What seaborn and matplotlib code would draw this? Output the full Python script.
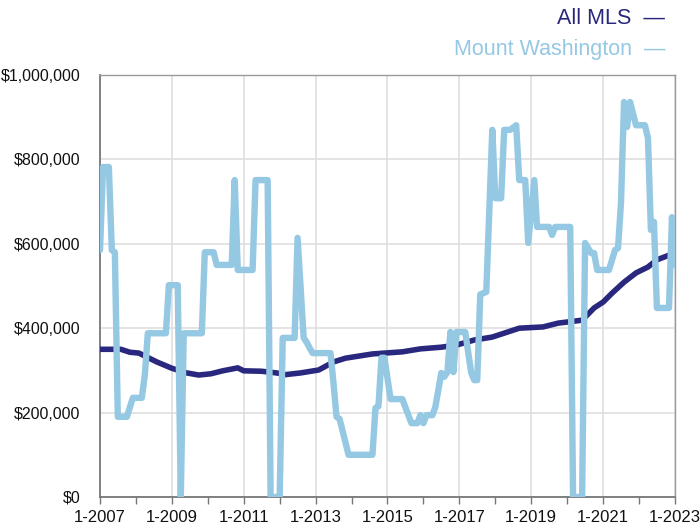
import pandas as pd
import matplotlib
matplotlib.use("Agg")
import matplotlib.pyplot as plt
import matplotlib.dates as mdates
from matplotlib.ticker import FuncFormatter, MultipleLocator, FixedLocator
import seaborn as sns

# ---------------------------------------------------------------------
# Data (median sale price, $ thousands)
# ---------------------------------------------------------------------
mls_months = [
    "2007-01", "2007-08", "2007-11", "2008-02", "2008-08", "2009-01", "2009-06",
    "2009-10", "2010-02", "2010-06", "2010-11", "2011-01", "2011-07", "2011-12",
    "2012-03", "2012-08", "2013-02", "2013-07", "2013-11", "2014-08", "2015-06",
    "2015-12", "2016-07", "2016-12", "2017-06", "2017-12", "2018-09", "2019-05",
    "2019-10", "2020-06", "2020-10", "2021-01", "2021-04", "2021-08", "2021-12",
    "2022-04", "2022-07", "2022-11", "2023-01",
]
mls_values = [
    350, 350, 343, 341, 320, 305, 294,
    289, 292, 299, 306, 299, 298, 294,
    290, 294, 301, 320, 329, 339, 344,
    351, 355, 360, 372, 379, 400, 403,
    412, 419, 448, 462, 483, 509, 531,
    545, 562, 573, 578,
]

mw_months = [
    "2007-01", "2007-02", "2007-04", "2007-05", "2007-06", "2007-07", "2007-10",
    "2007-12", "2008-03", "2008-04", "2008-05", "2008-11", "2008-12", "2009-03",
    "2009-04", "2009-05", "2009-11", "2009-12", "2010-03", "2010-04", "2010-09",
    "2010-10", "2010-11", "2011-04", "2011-05", "2011-09", "2011-10", "2012-01",
    "2012-02", "2012-06", "2012-07", "2012-09", "2012-10", "2012-11", "2012-12",
    "2013-06", "2013-07", "2013-08", "2013-09", "2013-12", "2014-08", "2014-09",
    "2014-10", "2014-11", "2014-12", "2015-02", "2015-06", "2015-07", "2015-09",
    "2015-11", "2015-12", "2016-01", "2016-02", "2016-04", "2016-05", "2016-07",
    "2016-08", "2016-09", "2016-10", "2016-11", "2016-12", "2017-03", "2017-05",
    "2017-06", "2017-07", "2017-08", "2017-10", "2017-12", "2018-01", "2018-03",
    "2018-04", "2018-06", "2018-08", "2018-09", "2018-11", "2018-12", "2019-02",
    "2019-03", "2019-07", "2019-08", "2019-09", "2020-02", "2020-03", "2020-06",
    "2020-07", "2020-09", "2020-10", "2020-11", "2021-03", "2021-05", "2021-06",
    "2021-07", "2021-08", "2021-09", "2021-10", "2021-12", "2022-03", "2022-04",
    "2022-05", "2022-06", "2022-07", "2022-11", "2022-12", "2023-01",
]
mw_values = [
    585, 782, 782, 585, 580, 190, 190,
    235, 235, 290, 388, 388, 502, 502,
    0, 388, 388, 580, 580, 550, 550,
    751, 538, 538, 751, 751, 0, 0,
    377, 377, 614, 377, 367, 353, 341,
    341, 270, 190, 185, 100, 100, 211,
    215, 330, 330, 232, 232, 213, 175,
    175, 194, 175, 194, 194, 213, 294,
    285, 296, 391, 296, 391, 391, 294,
    277, 277, 480, 486, 870, 708, 708,
    870, 870, 881, 751, 751, 602, 751,
    640, 640, 621, 640, 640, 0, 0,
    602, 578, 578, 538, 538, 585, 590,
    697, 936, 877, 936, 881, 881, 851,
    633, 652, 448, 448, 663, 550,
]

label_years = list(range(2007, 2024, 2))
minor_years = list(range(2007, 2024))

NAVY = "#29287e"
LIGHT = "#95c8e3"

mls = pd.DataFrame({"date": pd.to_datetime(mls_months), "price": [v * 1000 for v in mls_values]})
mw = pd.DataFrame({"date": pd.to_datetime(mw_months), "price": [v * 1000 for v in mw_values]})

# ---------------------------------------------------------------------
# Plot
# ---------------------------------------------------------------------
sns.set_theme(style="white")
plt.rcParams["font.family"] = ["Liberation Sans", "DejaVu Sans"]

fig = plt.figure(figsize=(7, 5.27), dpi=100)
ax = fig.add_axes([100 / 700, 30 / 527, 575 / 700, 422 / 527])

sns.lineplot(data=mls, x="date", y="price", color=NAVY, linewidth=4.0, ax=ax, zorder=3)
sns.lineplot(data=mw, x="date", y="price", color=LIGHT, linewidth=4.6, ax=ax, zorder=4)

ax.set_xlim(pd.Timestamp("2007-01-01"), pd.Timestamp("2023-01-01"))
ax.set_ylim(0, 1_000_000)
ax.set_xlabel("")
ax.set_ylabel("")

major = [mdates.date2num(pd.Timestamp(f"{y}-01-01")) for y in label_years]
minor = [mdates.date2num(pd.Timestamp(f"{y}-01-01")) for y in minor_years]
ax.xaxis.set_major_locator(FixedLocator(major))
ax.xaxis.set_minor_locator(FixedLocator(minor))
ax.xaxis.set_major_formatter(mdates.DateFormatter("1-%Y"))
ax.yaxis.set_major_locator(MultipleLocator(200_000))
ax.yaxis.set_major_formatter(FuncFormatter(lambda v, _: f"${v:,.0f}"))

ax.grid(True, which="major", color="#dddddd", linewidth=1.1)
ax.set_axisbelow(True)

for side in ["top", "right"]:
    ax.spines[side].set_color("#999999")
    ax.spines[side].set_linewidth(1.0)
for side in ["left", "bottom"]:
    ax.spines[side].set_color("#777777")
    ax.spines[side].set_linewidth(1.3)

ax.tick_params(axis="x", which="both", direction="out", length=5, width=1,
               color="#777777", bottom=True, pad=4, labelsize=12, labelcolor="#111111")
ax.tick_params(axis="y", which="both", length=0, pad=14, labelsize=11.5, labelcolor="#111111")

fig.text(665 / 700, 1 - 18 / 527, "All MLS  \u2014", color=NAVY, fontsize=15.5,
         ha="right", va="center")
fig.text(665 / 700, 1 - 50 / 527, "Mount Washington  \u2014", color=LIGHT, fontsize=15.5,
         ha="right", va="center")

fig.savefig("out.png", dpi=100)
